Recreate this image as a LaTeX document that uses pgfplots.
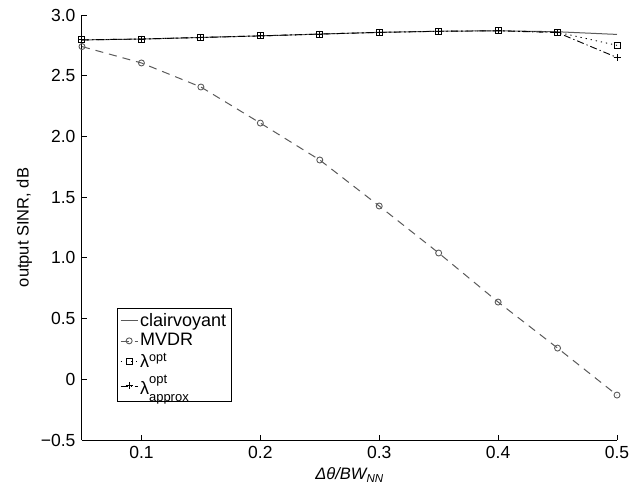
\documentclass[border=0pt]{standalone}
\usepackage{fontspec}
\setmainfont{Liberation Sans}
\usepackage{pgfplots}
\pgfplotsset{compat=1.18}
\definecolor{curvegray}{RGB}{90,90,90}
\begin{document}
\fontsize{16}{19}\selectfont
\begin{tikzpicture}
\begin{axis}[
  name=ax,
  scale only axis,
  width=535pt, height=425pt,
  xmin=0.05, xmax=0.5,
  ymin=-0.5, ymax=3.0,
  axis x line*=bottom,
  axis y line*=left,
  axis line style={line width=1pt},
  tick align=inside,
  major tick length=5pt,
  tick style={line width=0.9pt, black},
  xtick={0.1,0.2,0.3,0.4,0.5},
  xticklabels={0.1,0.2,0.3,0.4,0.5},
  ytick={-0.5,0,0.5,1,1.5,2,2.5,3},
  yticklabels={−0.5,0,0.5,1.0,1.5,2.0,2.5,3.0},
  tick label style={font=\fontsize{17.5}{20}\selectfont},
  xticklabel style={yshift=-1pt},
  yticklabel style={xshift=-1pt},
  xlabel={\textit{Δθ/BW\textsubscript{NN}}},
  ylabel={output SINR, dB},
  label style={font=\fontsize{16.5}{19}\selectfont},
  xlabel style={yshift=2pt},
  ylabel style={yshift=-2pt},
  clip=false,
  legend cell align=left,
  legend style={at={(0.065,0.089)}, anchor=south west, draw=black, line width=1pt,
    font=\fontsize{18}{20}\selectfont, row sep=1pt, inner sep=3pt},
  legend image post style={line width=0.7pt},
]
\addplot[curvegray, line width=1pt] coordinates {
  (0.05,2.795) (0.10,2.802) (0.15,2.815) (0.20,2.828) (0.25,2.843)
  (0.30,2.857) (0.35,2.866) (0.40,2.870) (0.45,2.862) (0.50,2.840)
};
\addplot[curvegray, line width=1pt, dash pattern=on 8pt off 6pt,
  mark=o, mark size=3pt, mark options={solid, line width=0.9pt}] coordinates {
  (0.05,2.740) (0.10,2.605) (0.15,2.407) (0.20,2.110) (0.25,1.806)
  (0.30,1.427) (0.35,1.040) (0.40,0.636) (0.45,0.257) (0.50,-0.130)
};
\addplot[black, line width=0.9pt, dash pattern=on 1.2pt off 4pt,
  mark=square, mark size=3pt, mark options={solid, line width=1pt}] coordinates {
  (0.05,2.795) (0.10,2.802) (0.15,2.815) (0.20,2.828) (0.25,2.843)
  (0.30,2.857) (0.35,2.866) (0.40,2.870) (0.45,2.858) (0.50,2.750)
};
\addplot[black, line width=0.9pt, dash pattern=on 7pt off 3pt on 1.2pt off 3pt,
  mark=+, mark size=3.5pt, mark options={solid, line width=1pt}] coordinates {
  (0.05,2.795) (0.10,2.802) (0.15,2.815) (0.20,2.828) (0.25,2.843)
  (0.30,2.857) (0.35,2.866) (0.40,2.870) (0.45,2.855) (0.50,2.650)
};
\legend{clairvoyant, MVDR, λ\textsuperscript{opt},
  λ\rlap{\raisebox{0.6em}{\fontsize{13}{14}\selectfont opt}}\raisebox{-0.4em}{\fontsize{13}{14}\selectfont approx}}
\end{axis}
\pgfresetboundingbox
\path[use as bounding box] ([xshift=-82pt,yshift=-56pt]ax.south west) rectangle ([xshift=559pt,yshift=440pt]ax.south west);
\end{tikzpicture}
\end{document}
